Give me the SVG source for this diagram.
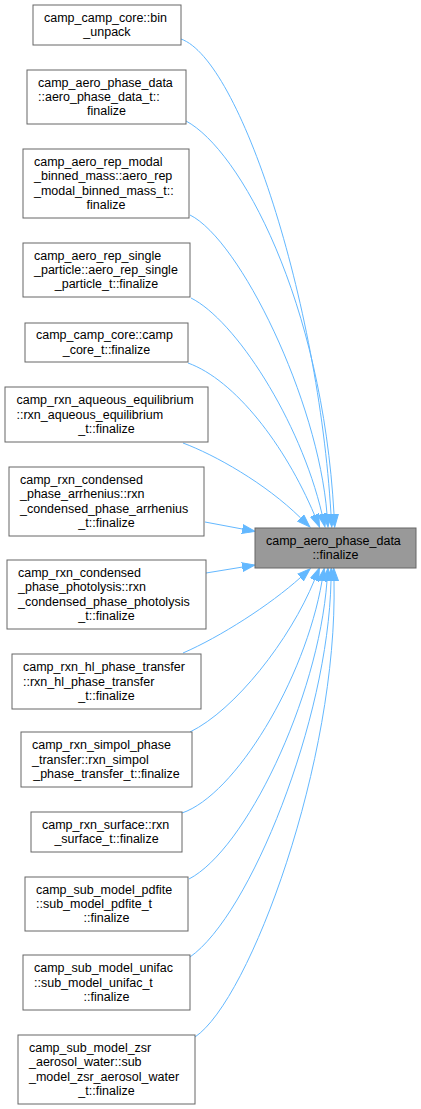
<svg xmlns="http://www.w3.org/2000/svg" width="421" height="1109" viewBox="0 0 421 1109">
<style>
.n rect{fill:#ffffff;stroke:#666666;stroke-width:1}
.t rect{fill:#999999;stroke:#666666;stroke-width:1}
text{font-family:"Liberation Sans",Arial,Helvetica,sans-serif;font-size:12.5px;fill:#000000}
.s{text-anchor:start}
.m{text-anchor:middle}
.e path{fill:none;stroke:#63b8ff;stroke-width:1;marker-end:url(#ah)}
</style>
<defs>
<marker id="ah" markerUnits="userSpaceOnUse" viewBox="0 -5 14 10" markerWidth="14" markerHeight="10" refX="0" refY="0" orient="auto">
<path d="M0,-4.5 L13,0 L0,4.5 Z" fill="#63b8ff" stroke="#63b8ff" stroke-width="1"/>
</marker>
</defs>
<rect width="421" height="1109" fill="#ffffff"/>
<g id="edges" class="e">
<path d="M181,39 C240,60 318,300 331,514"/>
<path d="M186,121 C240,150 322,300 334,514"/>
<path d="M190,215 C240,240 318,400 327,514"/>
<path d="M191,298 C235,320 300,420 322,514"/>
<path d="M188,363 C235,380 285,445 314.5,515"/>
<path d="M183,443 C215,455 265,483 300.6,517.9"/>
<path d="M205,522 L242.3,529"/>
<path d="M206,573 L242.2,567.1"/>
<path d="M183,653 C220,637 270,605 300.5,577.5"/>
<path d="M190,732 C235,710 290,640 314.5,580"/>
<path d="M182,813 C235,795 305,680 322,581"/>
<path d="M189,879 C245,850 318,700 327,581"/>
<path d="M190,957 C250,915 328,720 331,581"/>
<path d="M195,1037 C250,1000 338,760 334,581"/>
</g>
<g id="target" class="t">
<rect x="255" y="528" width="161" height="40"/>
<text class="s" x="266" y="544.9">camp_aero_phase_data</text>
<text class="m" x="335.5" y="559.2">::finalize</text>
</g>
<g id="node1" class="n">
<rect x="33" y="5" width="148" height="40"/>
<text class="s" x="44" y="21.9">camp_camp_core::bin</text>
<text class="m" x="107" y="36.2">_unpack</text>
</g>
<g id="node2" class="n">
<rect x="27" y="70" width="159" height="54"/>
<text class="s" x="38" y="86.7">camp_aero_phase_data</text>
<text class="s" x="38" y="101">::aero_phase_data_t::</text>
<text class="m" x="106.5" y="115.3">finalize</text>
</g>
<g id="node3" class="n">
<rect x="23" y="149" width="166" height="69"/>
<text class="s" x="34" y="166">camp_aero_rep_modal</text>
<text class="s" x="34" y="180.3">_binned_mass::aero_rep</text>
<text class="s" x="34" y="194.6">_modal_binned_mass_t::</text>
<text class="m" x="106" y="208.9">finalize</text>
</g>
<g id="node4" class="n">
<rect x="23" y="243" width="167" height="54"/>
<text class="s" x="34" y="259.7">camp_aero_rep_single</text>
<text class="s" x="34" y="274">_particle::aero_rep_single</text>
<text class="m" x="106.5" y="288.3">_particle_t::finalize</text>
</g>
<g id="node5" class="n">
<rect x="25" y="323" width="163" height="39"/>
<text class="s" x="36" y="339.4">camp_camp_core::camp</text>
<text class="m" x="106.5" y="353.7">_core_t::finalize</text>
</g>
<g id="node6" class="n">
<rect x="5" y="387" width="203" height="55"/>
<text class="s" x="16.5" y="404.2">camp_rxn_aqueous_equilibrium</text>
<text class="s" x="16.5" y="418.5">::rxn_aqueous_equilibrium</text>
<text class="m" x="106.5" y="432.8">_t::finalize</text>
</g>
<g id="node7" class="n">
<rect x="9" y="467" width="195" height="69"/>
<text class="s" x="20" y="484">camp_rxn_condensed</text>
<text class="s" x="20" y="498.3">_phase_arrhenius::rxn</text>
<text class="s" x="20" y="512.6">_condensed_phase_arrhenius</text>
<text class="m" x="106.5" y="526.9">_t::finalize</text>
</g>
<g id="node8" class="n">
<rect x="7" y="560" width="199" height="69"/>
<text class="s" x="18" y="577">camp_rxn_condensed</text>
<text class="s" x="18" y="591.3">_phase_photolysis::rxn</text>
<text class="s" x="18" y="605.6">_condensed_phase_photolysis</text>
<text class="m" x="106.5" y="619.9">_t::finalize</text>
</g>
<g id="node9" class="n">
<rect x="12" y="654" width="189" height="55"/>
<text class="s" x="23" y="671.2">camp_rxn_hl_phase_transfer</text>
<text class="s" x="23" y="685.5">::rxn_hl_phase_transfer</text>
<text class="m" x="106.5" y="699.8">_t::finalize</text>
</g>
<g id="node10" class="n">
<rect x="21" y="732" width="171" height="55"/>
<text class="s" x="32" y="749.2">camp_rxn_simpol_phase</text>
<text class="s" x="32" y="763.5">_transfer::rxn_simpol</text>
<text class="m" x="106.5" y="777.8">_phase_transfer_t::finalize</text>
</g>
<g id="node11" class="n">
<rect x="31" y="812" width="151" height="40"/>
<text class="s" x="42" y="828.9">camp_rxn_surface::rxn</text>
<text class="m" x="106.5" y="843.2">_surface_t::finalize</text>
</g>
<g id="node12" class="n">
<rect x="25" y="877" width="163" height="54"/>
<text class="s" x="36" y="893.7">camp_sub_model_pdfite</text>
<text class="s" x="36" y="908">::sub_model_pdfite_t</text>
<text class="m" x="106.5" y="922.3">::finalize</text>
</g>
<g id="node13" class="n">
<rect x="23" y="955" width="167" height="55"/>
<text class="s" x="34" y="972.2">camp_sub_model_unifac</text>
<text class="s" x="34" y="986.5">::sub_model_unifac_t</text>
<text class="m" x="106.5" y="1000.8">::finalize</text>
</g>
<g id="node14" class="n">
<rect x="18" y="1035" width="177" height="69"/>
<text class="s" x="29" y="1052">camp_sub_model_zsr</text>
<text class="s" x="29" y="1066.3">_aerosol_water::sub</text>
<text class="s" x="29" y="1080.6">_model_zsr_aerosol_water</text>
<text class="m" x="106.5" y="1094.9">_t::finalize</text>
</g>
</svg>
